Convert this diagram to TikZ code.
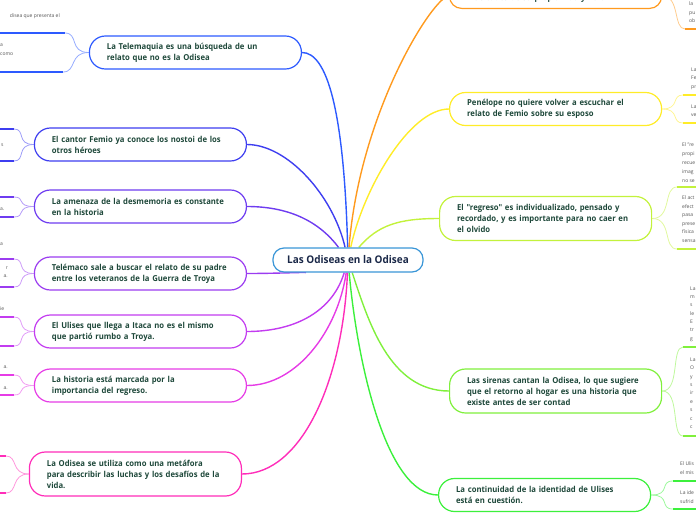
\documentclass[tikz,border=0pt]{standalone}
\usepackage{fontspec}
\setmainfont{Open Sans}
\newfontfamily\mapfont{Open Sans}[FakeStretch=0.94]
\usepackage{tikz}
\usetikzlibrary{backgrounds}
\definecolor{TopicText}{RGB}{30,72,58}
\definecolor{HubText}{RGB}{26,40,72}
\definecolor{HubBlue}{RGB}{58,150,215}
\definecolor{LeafGray}{RGB}{85,85,85}
\definecolor{TeleBlue}{RGB}{45,90,255}
\definecolor{FemioBlue}{RGB}{62,62,240}
\definecolor{DesmViolet}{RGB}{110,60,240}
\definecolor{TelemPurple}{RGB}{155,60,240}
\definecolor{UlisPurple}{RGB}{195,60,240}
\definecolor{HistMagenta}{RGB}{230,60,230}
\definecolor{MetaPink}{RGB}{255,45,185}
\definecolor{NoraOrange}{RGB}{255,154,30}
\definecolor{PeneYellow}{RGB}{255,236,40}
\definecolor{RegLime}{RGB}{195,242,60}
\definecolor{SirenGreen}{RGB}{128,240,60}
\definecolor{IdentGreen}{RGB}{60,240,60}

\begin{document}
\begin{tikzpicture}[
  x=1pt,y=1pt,
  topic/.style={draw=#1,line width=1.2pt,rounded corners=16pt,fill=white,text=TopicText,
    text width=177pt,align=left,inner xsep=17.5pt,inner ysep=0pt,minimum height=33pt,
    font=\mapfont\bfseries\fontsize{8.2}{11}\selectfont},
  tall/.style={minimum height=44pt},
  hub/.style={draw=HubBlue,line width=1.2pt,rounded corners=11pt,fill=white,text=HubText,
    minimum width=150pt,minimum height=24pt,font=\mapfont\bfseries\fontsize{10.6}{12}\selectfont},
  branch/.style={draw=#1,line width=1.4pt},
  twig/.style={draw=#1!50,line width=0.8pt},
  underline/.style={draw=#1,line width=1.8pt},
  leaf/.style={font=\fontsize{5}{8.5}\selectfont,text=LeafGray,inner sep=0pt,align=left}]
\path[use as bounding box] (0,0) rectangle (696,-520);

\node[hub] (hub) at (348,-260) {Las Odiseas en la Odisea};

% left branches
\node[topic=TeleBlue,anchor=east] (telemaquia) at (302,-52.5)
  {La Telemaquia es una búsqueda de un\\relato que no es la Odisea};
\node[topic=FemioBlue,anchor=east] (femio) at (247,-144.5)
  {El cantor Femio ya conoce los nostoi de los\\otros héroes};
\node[topic=DesmViolet,anchor=east] (desmemoria) at (247,-206.5)
  {La amenaza de la desmemoria es constante\\en la historia};
\node[topic=TelemPurple,anchor=east] (telemaco) at (247,-273.5)
  {Telémaco sale a buscar el relato de su padre\\entre los veteranos de la Guerra de Troya};
\node[topic=UlisPurple,anchor=east] (ulises) at (247,-331.5)
  {El Ulises que llega a Itaca no es el mismo\\que partió rumbo a Troya.};
\node[topic=HistMagenta,anchor=east] (historia) at (247,-385.5)
  {La historia está marcada por la\\importancia del regreso.};
\node[topic=MetaPink,tall,anchor=east] (metafora) at (242,-474)
  {La Odisea se utiliza como una metáfora\\para describir las luchas y los desafíos de la\\vida.};

% right branches
\node[topic=NoraOrange,anchor=south west,minimum height=25pt,rounded corners=12pt] (llora) at (449,-9)
  {\mbox{}\\vicisitudes de su propia vida y llora};
\node[topic=PeneYellow,anchor=west] (penelope) at (449,-109)
  {Penélope no quiere volver a escuchar el\\relato de Femio sobre su esposo};
\node[topic=RegLime,tall,anchor=west] (individual) at (439,-218.5)
  {El "regreso" es individualizado, pensado y\\recordado, y es importante para no caer en\\el olvido};
\node[topic=SirenGreen,tall,anchor=west] (sirenas) at (449,-391)
  {Las sirenas cantan la Odisea, lo que sugiere\\que el retorno al hogar es una historia que\\existe antes de ser contad};
\node[topic=IdentGreen,anchor=west] (identidad) at (438,-495)
  {La continuidad de la identidad de Ulises\\está en cuestión.};

% subtopic ends (cut by the page edge)
\coordinate (tel1) at (65,-33);   \coordinate (tel2) at (63,-72);
\coordinate (fem1) at (14,-129);  \coordinate (fem2) at (14,-161);
\coordinate (des1) at (14,-197);  \coordinate (des2) at (14,-217);
\coordinate (tem1) at (14,-259);  \coordinate (tem2) at (14,-287);
\coordinate (uli1) at (14,-317);  \coordinate (uli2) at (14,-346);
\coordinate (his1) at (14,-375);  \coordinate (his2) at (14,-395);
\coordinate (met1) at (6,-456);   \coordinate (met2) at (6,-493);
\coordinate (llo1) at (685,-29);
\coordinate (pen1) at (683,-95);  \coordinate (pen2) at (683,-123);
\coordinate (ind1) at (677,-187); \coordinate (ind2) at (677,-249);
\coordinate (sir1) at (683,-347); \coordinate (sir2) at (683,-436);
\coordinate (ide1) at (673,-481); \coordinate (ide2) at (673,-509);

\node[leaf,anchor=east] (tel1t) at (60,-16) {disea que presenta el};
\node[leaf,anchor=north west] (tel2t) at (0,-44) {a\\como};
\node[leaf,anchor=west] (fem2t) at (1,-145) {s};
\node[leaf,anchor=west] (des2t) at (0,-209) {a.};
\node[leaf,anchor=west] (tem1t) at (0,-244) {a};
\node[leaf,anchor=north east,align=right] (tem2t) at (8,-266.5) {r\\a.};
\node[leaf,anchor=west] (uli1t) at (0,-309) {ie};
\node[leaf,anchor=east] (his1t) at (8,-367) {a.};
\node[leaf,anchor=east] (his2t) at (8,-388) {a.};
\node[leaf,anchor=north west] (llo1t) at (689,-1.5) {la\\pu\\ob};
\node[leaf,anchor=north west] (pen1t) at (691,-67.5) {La\\Fe\\pr};
\node[leaf,anchor=north west] (pen2t) at (691,-104.5) {La\\ve};
\node[leaf,anchor=north west,font=\fontsize{5}{9}\selectfont] (ind1t) at (682,-142.5)
  {El "re\\propi\\recue\\imag\\no se};
\node[leaf,anchor=north west] (ind2t) at (682,-195.5)
  {El act\\efect\\pasa\\prese\\física\\sensa};
\node[leaf,anchor=north west,font=\fontsize{5}{8.3}\selectfont] (sir1t) at (690,-286.5)
  {La\\m\\s\\le\\E\\tr\\g};
\node[leaf,anchor=north west,font=\fontsize{5}{8.4}\selectfont] (sir2t) at (690,-357.5)
  {La\\O\\y\\s\\ir\\e\\s\\c\\c};
\node[leaf,anchor=north west] (ide1t) at (680,-461.5) {El Ulis\\el mis};
\node[leaf,anchor=north west] (ide2t) at (680,-490.5) {La ide\\sufrid};

\begin{scope}[on background layer]
% main connectors
\draw[branch=TeleBlue] (hub) .. controls +(-4,150) and +(25,0) .. (telemaquia.east);
\draw[branch=FemioBlue] (hub) .. controls +(-15,65) and +(40,0) .. (femio.east);
\draw[branch=DesmViolet] (hub) .. controls +(-30,40) and +(40,0) .. (desmemoria.east);
\draw[branch=TelemPurple] (hub) .. controls +(-40,-12) and +(30,0) .. (telemaco.east);
\draw[branch=UlisPurple] (hub) .. controls +(-15,-50) and +(50,0) .. (ulises.east);
\draw[branch=HistMagenta] (hub) .. controls +(-10,-70) and +(50,0) .. (historia.east);
\draw[branch=MetaPink] (hub) .. controls +(-5,-120) and +(60,0) .. (metafora.east);
\draw[branch=NoraOrange] (hub) .. controls +(12,150) and +(-15,0) .. (llora.west);
\draw[branch=PeneYellow] (hub) .. controls +(15,70) and +(-40,0) .. (penelope.west);
\draw[branch=RegLime] (hub) .. controls +(30,35) and +(-40,0) .. (individual.west);
\draw[branch=SirenGreen] (hub) .. controls +(20,-60) and +(-60,0) .. (sirenas.west);
\draw[branch=IdentGreen] (hub) .. controls +(10,-110) and +(-50,0) .. (identidad.west);
% subtopic connectors
\draw[twig=TeleBlue] (telemaquia.west) .. controls +(-20,0) and +(14,0) .. (tel1);
\draw[twig=TeleBlue] (telemaquia.west) .. controls +(-20,0) and +(14,0) .. (tel2);
\draw[twig=FemioBlue] (femio.west) .. controls +(-18,0) and +(12,0) .. (fem1);
\draw[twig=FemioBlue] (femio.west) .. controls +(-18,0) and +(12,0) .. (fem2);
\draw[twig=DesmViolet] (desmemoria.west) .. controls +(-18,0) and +(12,0) .. (des1);
\draw[twig=DesmViolet] (desmemoria.west) .. controls +(-18,0) and +(12,0) .. (des2);
\draw[twig=TelemPurple] (telemaco.west) .. controls +(-18,0) and +(12,0) .. (tem1);
\draw[twig=TelemPurple] (telemaco.west) .. controls +(-18,0) and +(12,0) .. (tem2);
\draw[twig=UlisPurple] (ulises.west) .. controls +(-18,0) and +(12,0) .. (uli1);
\draw[twig=UlisPurple] (ulises.west) .. controls +(-18,0) and +(12,0) .. (uli2);
\draw[twig=HistMagenta] (historia.west) .. controls +(-18,0) and +(12,0) .. (his1);
\draw[twig=HistMagenta] (historia.west) .. controls +(-18,0) and +(12,0) .. (his2);
\draw[twig=MetaPink] (metafora.west) .. controls +(-18,0) and +(12,0) .. (met1);
\draw[twig=MetaPink] (metafora.west) .. controls +(-18,0) and +(12,0) .. (met2);
\draw[twig=NoraOrange] (llora.east) .. controls +(18,0) and +(-12,0) .. (llo1);
\draw[twig=PeneYellow] (penelope.east) .. controls +(18,0) and +(-12,0) .. (pen1);
\draw[twig=PeneYellow] (penelope.east) .. controls +(18,0) and +(-12,0) .. (pen2);
\draw[twig=RegLime] (individual.east) .. controls +(20,0) and +(-14,0) .. (ind1);
\draw[twig=RegLime] (individual.east) .. controls +(20,0) and +(-14,0) .. (ind2);
\draw[twig=SirenGreen] (sirenas.east) .. controls +(18,0) and +(-12,0) .. (sir1);
\draw[twig=SirenGreen] (sirenas.east) .. controls +(18,0) and +(-12,0) .. (sir2);
\draw[twig=IdentGreen] (identidad.east) .. controls +(20,0) and +(-14,0) .. (ide1);
\draw[twig=IdentGreen] (identidad.east) .. controls +(20,0) and +(-14,0) .. (ide2);
\end{scope}

% underlines of the cut subtopics
\draw[underline=TeleBlue] (tel1) -- ++(-70,0);
\draw[underline=TeleBlue] (tel2) -- ++(-70,0);
\foreach \s/\c in {fem1/FemioBlue,fem2/FemioBlue,des1/DesmViolet,des2/DesmViolet,
    tem1/TelemPurple,tem2/TelemPurple,uli1/UlisPurple,uli2/UlisPurple,
    his1/HistMagenta,his2/HistMagenta,met1/MetaPink,met2/MetaPink}
  \draw[underline=\c] (\s) -- ++(-20,0);
\foreach \s/\c in {llo1/NoraOrange,pen1/PeneYellow,pen2/PeneYellow,ind1/RegLime,ind2/RegLime,
    sir1/SirenGreen,sir2/SirenGreen,ide1/IdentGreen,ide2/IdentGreen}
  \draw[underline=\c] (\s) -- ++(30,0);
\end{tikzpicture}
\end{document}
